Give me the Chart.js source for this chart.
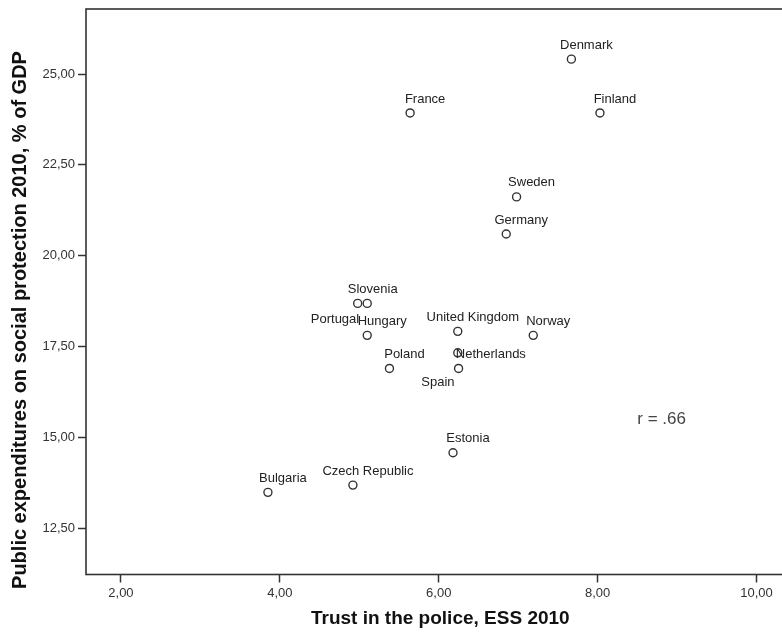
<!DOCTYPE html>
<html>
<head>
<meta charset="utf-8">
<script src="https://cdn.jsdelivr.net/npm/chart.js@4.4.1/dist/chart.umd.min.js"></script>
<style>
  html, body { margin: 0; padding: 0; background: #ffffff; overflow: hidden; }
  #wrap { width: 800px; height: 637px; }
</style>
</head>
<body>
<div id="wrap"><canvas id="c" width="800" height="637"></canvas></div>
<script>
// ---- Data ----
const countries = ["Denmark", "France", "Finland", "Sweden", "Germany", "Slovenia", "Portugal",
  "Hungary", "United Kingdom", "Norway", "Poland", "Netherlands", "Spain", "Estonia",
  "Czech Republic", "Bulgaria"];
const trustInPolice = [7.67, 5.64, 8.03, 6.98, 6.85, 4.98, 5.10, 5.10, 6.24, 7.19, 5.38, 6.24, 6.25, 6.18, 4.92, 3.85];
const socialProtection = [25.41, 23.93, 23.93, 21.62, 20.60, 18.69, 18.69, 17.81, 17.92, 17.81, 16.90, 17.33, 16.90, 14.58, 13.69, 13.49];
const xTickValues = [2, 4, 6, 8, 10];
const yTickValues = [12.5, 15, 17.5, 20, 22.5, 25];
const xTitle = "Trust in the police, ESS 2010";
const yTitle = "Public expenditures on social protection 2010, % of GDP";
const correlationText = "r = .66";

const fmt = v => Number(v).toFixed(2).replace('.', ',');

const points = countries.map((name, i) => ({ x: trustInPolice[i], y: socialProtection[i], name }));

// label placement (style), default: centered above-right of the point
const labelPlacement = {
  "Portugal":    { align: "right", dx: -8, dy: 16 },
  "Netherlands": { align: "left",  dx: -2, dy: 2 },
  "Spain":       { align: "right", dx: -4, dy: 14 }
};

const pointLabels = {
  id: 'pointLabels',
  afterDatasetsDraw(chart) {
    const ctx = chart.ctx;
    const meta = chart.getDatasetMeta(0);
    ctx.save();
    ctx.font = '13px "Liberation Sans", Arial, sans-serif';
    ctx.fillStyle = '#222222';
    ctx.textBaseline = 'middle';
    meta.data.forEach((el, i) => {
      const name = points[i].name;
      const p = labelPlacement[name] || { align: "center", dx: 15, dy: -14 };
      ctx.textAlign = p.align;
      ctx.fillText(name, el.x + p.dx, el.y + p.dy);
    });
    // correlation annotation
    ctx.font = '17px "Liberation Sans", Arial, sans-serif';
    ctx.fillStyle = '#444444';
    ctx.textAlign = 'left';
    const xs = chart.scales.x, ys = chart.scales.y;
    ctx.fillText(correlationText, xs.getPixelForValue(8.5), ys.getPixelForValue(15.5));
    // y-axis title (centred on the whole figure height, like the reference)
    ctx.save();
    ctx.translate(20, 320);
    ctx.rotate(-Math.PI / 2);
    ctx.font = 'bold 20px "Liberation Sans", Arial, sans-serif';
    ctx.fillStyle = '#111111';
    ctx.textAlign = 'center';
    ctx.textBaseline = 'middle';
    ctx.fillText(yTitle, 0, 0);
    ctx.restore();
    ctx.restore();
  }
};

const frame = {
  id: 'frame',
  afterDraw(chart) {
    const a = chart.chartArea, ctx = chart.ctx;
    ctx.save();
    ctx.strokeStyle = '#333333';
    ctx.lineWidth = 1.6;
    ctx.strokeRect(a.left, a.top, a.right - a.left, a.bottom - a.top);
    ctx.restore();
  }
};

new Chart(document.getElementById('c'), {
  type: 'scatter',
  data: {
    datasets: [{
      data: points,
      pointStyle: 'circle',
      pointRadius: 4,
      pointHoverRadius: 4,
      borderColor: '#333333',
      backgroundColor: 'rgba(255,255,255,0)',
      borderWidth: 1.4
    }]
  },
  options: {
    responsive: false,
    animation: false,
    events: [],
    layout: { padding: { top: 9, right: 4, left: 0, bottom: 0 } },
    plugins: { legend: { display: false }, tooltip: { enabled: false } },
    scales: {
      x: {
        type: 'linear',
        min: 1.56,
        max: 10.48,
        afterBuildTicks: s => { s.ticks = xTickValues.map(v => ({ value: v })); },
        afterFit: s => { s.height = 62.5; s.paddingLeft = 0; s.paddingRight = 0; },
        border: { display: false },
        grid: { drawOnChartArea: false, drawTicks: true, tickLength: 8, tickColor: '#333333', tickWidth: 1.5 },
        ticks: {
          padding: 3,
          color: '#333333',
          font: { family: '"Liberation Sans", Arial, sans-serif', size: 13 },
          callback: v => fmt(v),
          maxRotation: 0
        },
        title: {
          display: true,
          text: xTitle,
          color: '#111111',
          padding: { top: 0, bottom: 7 },
          font: { family: '"Liberation Sans", Arial, sans-serif', size: 19, weight: 'bold' }
        }
      },
      y: {
        type: 'linear',
        min: 11.23,
        max: 26.79,
        afterBuildTicks: s => { s.ticks = yTickValues.map(v => ({ value: v })); },
        afterFit: s => { s.width = 86; s.paddingTop = 0; s.paddingBottom = 0; },
        border: { display: false },
        grid: { drawOnChartArea: false, drawTicks: true, tickLength: 8, tickColor: '#333333', tickWidth: 1.5 },
        ticks: {
          padding: 3,
          color: '#333333',
          font: { family: '"Liberation Sans", Arial, sans-serif', size: 13 },
          callback: v => fmt(v)
        },
        title: { display: false, text: yTitle }
      }
    }
  },
  plugins: [pointLabels, frame]
});
</script>
</body>
</html>
